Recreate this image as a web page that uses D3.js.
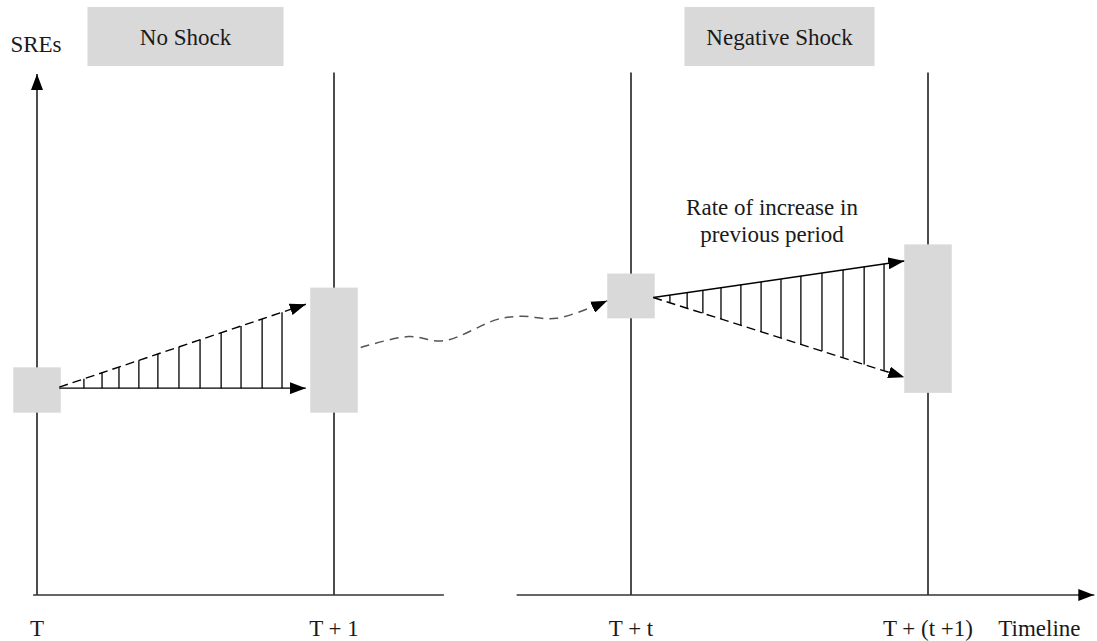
<!DOCTYPE html>
<html>
<head>
<meta charset="utf-8">
<script src="https://cdn.jsdelivr.net/npm/d3@7"></script>
<style>
  body { margin: 0; background: white; }
  text { font-family: "Liberation Serif", "Times New Roman", serif; fill: #1a1a1a; }
</style>
</head>
<body>
<div id="container"></div>
<script>
// time points along the timeline and their labels
let periods = ["T", "T + 1", "T + t", "T + (t +1)"];
let periodIdx = [0, 1, 2, 3];
let panels = ["No Shock", "Negative Shock"];
let panelFrom = [0.17, 2.18];
let panelTo = [0.83, 2.82];

// grey SRE boxes: period, low and high level
let boxT = [0, 1, 2, 3];
let boxLow = [35, 35, 53.1, 38.8];
let boxHigh = [43.7, 59, 61.7, 67.3];

// growth arrows: start -> end (time, level)
let arrowFromT = [0.075, 0.075, 2.075, 2.075];
let arrowFromV = [39.7, 39.9, 57.1, 57.1];
let arrowToT = [0.905, 0.905, 2.92, 2.92];
let arrowToV = [39.7, 55.8, 64.1, 41.8];
let arrowDashed = [false, true, false, true];

// hatch positions inside each wedge
let hatchLeft = [0.158, 0.219, 0.276, 0.343, 0.407, 0.478, 0.549, 0.620, 0.687, 0.758, 0.825];
let hatchRight = [2.131, 2.189, 2.242, 2.303, 2.370, 2.438, 2.505, 2.572, 2.643, 2.714, 2.785, 2.852];

// wavy link between the two panels
let wavyT = [1.09, 1.25, 1.37, 1.55, 1.63, 1.75, 1.92];
let wavyV = [47.5, 49.6, 48.8, 52.9, 53.5, 53.1, 56.5];

let w = 1097;
let h = 641;

let viz = d3.select("#container").append("svg")
    .attr("width", w)
    .attr("height", h)
;

let x = d3.scaleLinear().domain([0, 3]).range([37, 928]);
let y = d3.scaleLinear().domain([0, 100]).range([595, 74]);

let defs = viz.append("defs");
defs.append("marker")
    .attr("id", "head")
    .attr("viewBox", "0 0 16 12")
    .attr("refX", 16)
    .attr("refY", 6)
    .attr("markerUnits", "userSpaceOnUse")
    .attr("markerWidth", 16)
    .attr("markerHeight", 12)
    .attr("orient", "auto")
  .append("path")
    .attr("d", "M0,0 L16,6 L0,12 z")
    .attr("fill", "black")
;

// panel title boxes
panels.forEach(function(p, i){
  viz.append("rect")
      .attr("x", x(panelFrom[i]))
      .attr("y", 7)
      .attr("width", x(panelTo[i]) - x(panelFrom[i]))
      .attr("height", 59)
      .attr("fill", "#d9d9d9")
  ;
  viz.append("text")
      .attr("x", (x(panelFrom[i]) + x(panelTo[i])) / 2)
      .attr("y", 45)
      .attr("text-anchor", "middle")
      .attr("font-size", 23)
      .text(p)
  ;
});

// vertical period lines
viz.selectAll(".period").data(periodIdx.slice(1)).enter()
  .append("line")
    .attr("x1", d => x(d))
    .attr("x2", d => x(d))
    .attr("y1", y(0))
    .attr("y2", y(100.3))
    .attr("stroke", "black")
    .attr("stroke-width", 1.4)
;

// y axis with arrow
viz.append("line")
    .attr("x1", x(0)).attr("x2", x(0))
    .attr("y1", y(0)).attr("y2", y(100))
    .attr("stroke", "black")
    .attr("stroke-width", 1.4)
    .attr("marker-end", "url(#head)")
;
viz.append("text")
    .attr("x", x(0) - 1)
    .attr("y", 52)
    .attr("text-anchor", "middle")
    .attr("font-size", 23)
    .text("SREs")
;

// timeline, broken between the panels
viz.append("line")
    .attr("x1", x(-0.013)).attr("x2", x(1.37))
    .attr("y1", y(0)).attr("y2", y(0))
    .attr("stroke", "#333")
    .attr("stroke-width", 1.4)
;
viz.append("line")
    .attr("x1", x(1.615)).attr("x2", x(3.56))
    .attr("y1", y(0)).attr("y2", y(0))
    .attr("stroke", "#333")
    .attr("stroke-width", 1.4)
    .attr("marker-end", "url(#head)")
;

viz.selectAll(".plabel").data(periods).enter()
  .append("text")
    .attr("x", (d, i) => x(periodIdx[i]))
    .attr("y", 636)
    .attr("text-anchor", "middle")
    .attr("font-size", 23)
    .text(d => d)
;
viz.append("text")
    .attr("x", x(3.375))
    .attr("y", 636)
    .attr("text-anchor", "middle")
    .attr("font-size", 23)
    .text("Timeline")
;

// grey boxes
viz.selectAll(".box").data(boxT).enter()
  .append("rect")
    .attr("x", d => x(d - 0.08))
    .attr("y", (d, i) => y(boxHigh[i]))
    .attr("width", x(0.16) - x(0))
    .attr("height", (d, i) => y(boxLow[i]) - y(boxHigh[i]))
    .attr("fill", "#d9d9d9")
;

// hatching between the arrow pairs
function lineAt(i, t){
  let f = (t - arrowFromT[i]) / (arrowToT[i] - arrowFromT[i]);
  return arrowFromV[i] + f * (arrowToV[i] - arrowFromV[i]);
}
viz.selectAll(".hl").data(hatchLeft).enter()
  .append("line")
    .attr("x1", d => x(d)).attr("x2", d => x(d))
    .attr("y1", d => y(lineAt(0, d)))
    .attr("y2", d => y(lineAt(1, d)))
    .attr("stroke", "black")
    .attr("stroke-width", 1.3)
;
viz.selectAll(".hr").data(hatchRight).enter()
  .append("line")
    .attr("x1", d => x(d)).attr("x2", d => x(d))
    .attr("y1", d => y(lineAt(2, d)))
    .attr("y2", d => y(lineAt(3, d)))
    .attr("stroke", "black")
    .attr("stroke-width", 1.3)
;

// growth arrows
viz.selectAll(".arrow").data(arrowFromT).enter()
  .append("line")
    .attr("x1", d => x(d))
    .attr("y1", (d, i) => y(arrowFromV[i]))
    .attr("x2", (d, i) => x(arrowToT[i]))
    .attr("y2", (d, i) => y(arrowToV[i]))
    .attr("stroke", "black")
    .attr("stroke-width", 1.4)
    .attr("stroke-dasharray", (d, i) => arrowDashed[i] ? "9,5" : null)
    .attr("marker-end", "url(#head)")
;

// wavy dashed connector
let wavy = d3.line()
    .x(d => x(d))
    .y((d, i) => y(wavyV[i]))
    .curve(d3.curveCatmullRom);
viz.append("path")
    .attr("d", wavy(wavyT))
    .attr("fill", "none")
    .attr("stroke", "#555")
    .attr("stroke-width", 1.5)
    .attr("stroke-dasharray", "9,6")
    .attr("marker-end", "url(#head)")
;

// annotation
let note = viz.append("text")
    .attr("x", 772)
    .attr("y", 215)
    .attr("text-anchor", "middle")
    .attr("font-size", 23);
note.append("tspan").attr("x", 772).text("Rate of increase in");
note.append("tspan").attr("x", 772).attr("dy", 27).text("previous period");
</script>
</body>
</html>
